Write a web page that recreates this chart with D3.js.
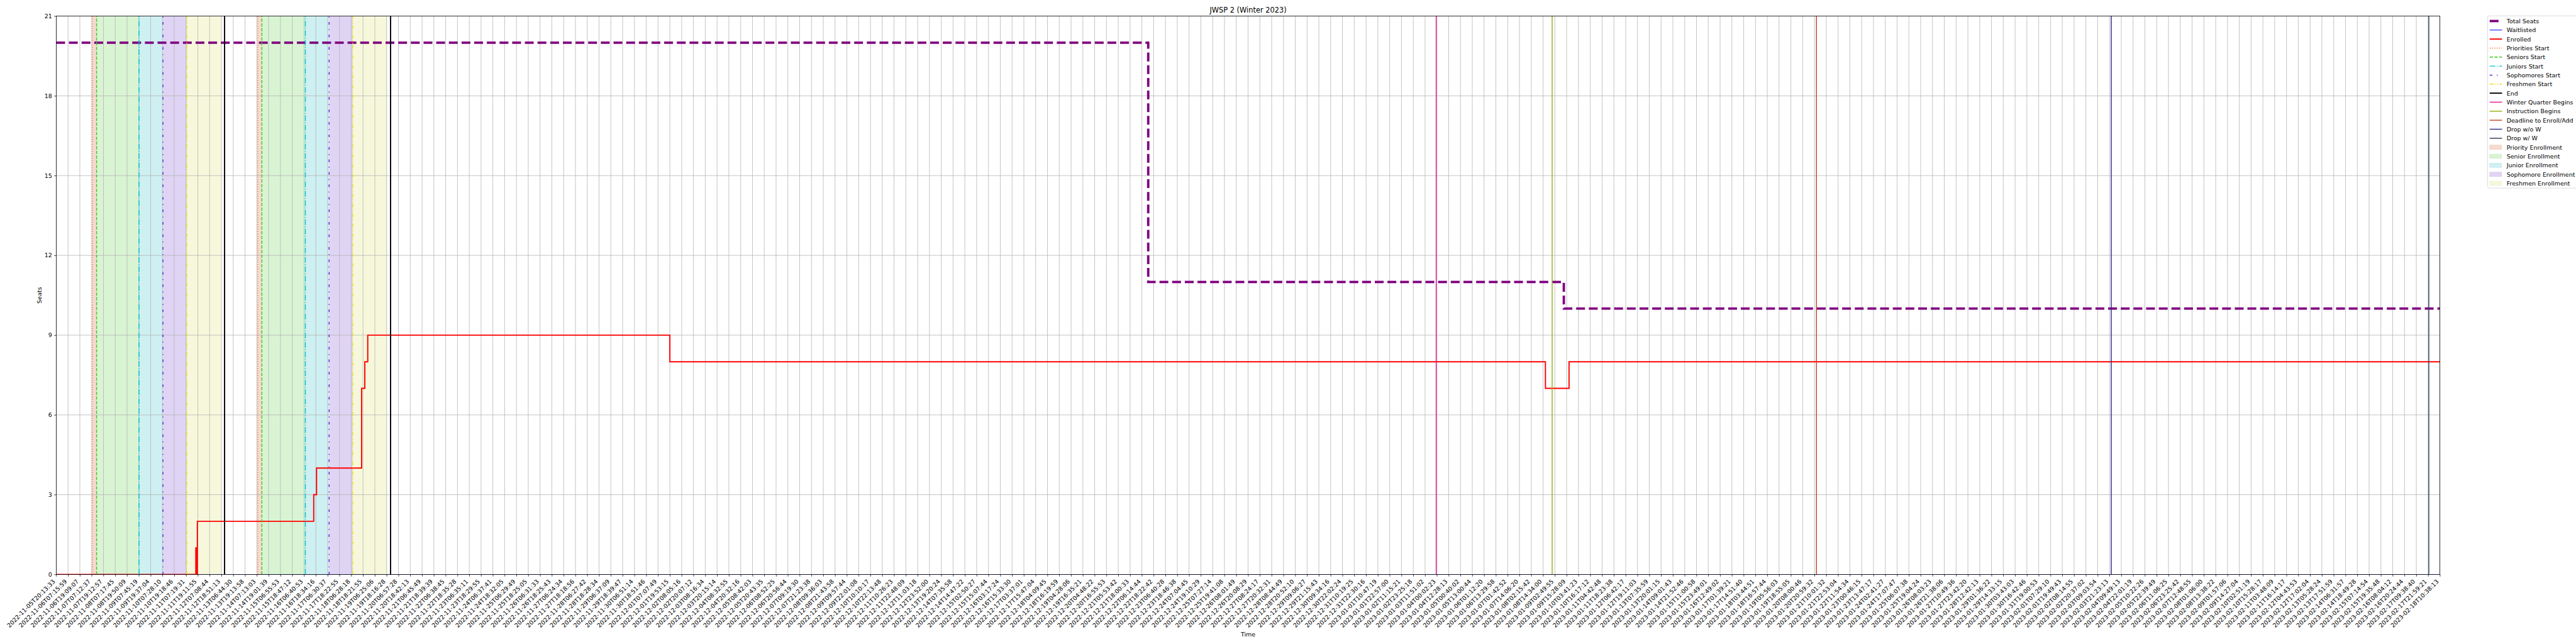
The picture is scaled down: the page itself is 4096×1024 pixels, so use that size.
<!DOCTYPE html>
<html><head><meta charset="utf-8">
<script src="https://cdn.jsdelivr.net/npm/d3@7"></script>
<style>html,body{margin:0;padding:0;background:#fff;overflow:hidden}svg{display:block}</style>
</head><body><div id="chart"></div>
<script>
// ---------------- DATA ----------------
const chartTitle = "JWSP 2 (Winter 2023)";
const xAxisLabel = "Time";
const yAxisLabel = "Seats";
const tickLabels = [
"2022-11-05T20:13:33","2022-11-06T07:15:59","2022-11-06T19:09:07","2022-11-07T07:12:37","2022-11-07T19:12:57",
"2022-11-08T07:17:45","2022-11-08T19:50:09","2022-11-09T07:45:19","2022-11-09T19:37:04","2022-11-10T07:28:10",
"2022-11-10T19:18:46","2022-11-11T07:19:31","2022-11-11T19:11:55","2022-11-12T07:08:44","2022-11-12T18:51:13",
"2022-11-13T06:44:30","2022-11-13T19:13:58","2022-11-14T07:13:03","2022-11-14T19:01:39","2022-11-15T06:55:53",
"2022-11-15T18:47:12","2022-11-16T06:40:53","2022-11-16T18:34:16","2022-11-17T06:30:37","2022-11-17T18:22:55",
"2022-11-18T06:28:18","2022-11-18T18:21:55","2022-11-19T06:25:06","2022-11-19T18:16:28","2022-11-20T06:57:28",
"2022-11-20T18:42:13","2022-11-21T06:45:49","2022-11-21T18:39:39","2022-11-22T06:38:45","2022-11-22T18:35:28",
"2022-11-23T06:35:11","2022-11-23T18:29:55","2022-11-24T06:37:41","2022-11-24T18:32:05","2022-11-25T06:29:49",
"2022-11-25T18:25:05","2022-11-26T06:31:33","2022-11-26T18:25:43","2022-11-27T06:24:34","2022-11-27T18:18:56",
"2022-11-28T06:27:42","2022-11-28T18:28:34","2022-11-29T06:37:09","2022-11-29T18:39:47","2022-11-30T06:51:14",
"2022-11-30T18:51:46","2022-12-01T07:07:49","2022-12-01T19:53:15","2022-12-02T08:05:16","2022-12-02T20:07:12",
"2022-12-03T08:16:34","2022-12-03T20:15:14","2022-12-04T08:32:55","2022-12-04T20:32:16","2022-12-05T08:42:03",
"2022-12-05T20:43:35","2022-12-06T08:52:25","2022-12-06T20:56:44","2022-12-07T09:19:30","2022-12-07T21:23:38",
"2022-12-08T09:36:03","2022-12-08T21:43:58","2022-12-09T09:57:44","2022-12-09T22:01:08","2022-12-10T10:10:17",
"2022-12-10T22:13:48","2022-12-11T10:26:23","2022-12-11T22:48:09","2022-12-12T11:03:18","2022-12-12T23:52:00",
"2022-12-13T19:20:24","2022-12-14T07:35:58","2022-12-14T14:47:22","2022-12-15T02:50:27","2022-12-15T15:07:44",
"2022-12-16T03:17:24","2022-12-16T15:33:30","2022-12-17T03:37:01","2022-12-17T15:47:04","2022-12-18T04:09:45",
"2022-12-18T16:19:59","2022-12-19T04:28:06","2022-12-19T16:35:21","2022-12-20T04:48:22","2022-12-20T16:55:53",
"2022-12-21T05:53:42","2022-12-21T18:00:33","2022-12-22T06:14:44","2022-12-22T18:22:42","2022-12-23T06:40:28",
"2022-12-23T18:46:38","2022-12-24T07:04:45","2022-12-24T19:10:29","2022-12-25T07:27:14","2022-12-25T19:41:08",
"2022-12-26T08:01:49","2022-12-26T20:08:29","2022-12-27T08:24:17","2022-12-27T20:32:31","2022-12-28T08:44:49",
"2022-12-28T20:52:10","2022-12-29T09:06:27","2022-12-29T21:15:43","2022-12-30T09:34:16","2022-12-30T22:02:24",
"2022-12-31T10:19:25","2022-12-31T22:30:16","2023-01-01T10:47:19","2023-01-01T22:57:00","2023-01-02T11:15:21",
"2023-01-02T23:25:18","2023-01-03T11:51:02","2023-01-04T00:02:23","2023-01-04T12:28:13","2023-01-05T00:40:02",
"2023-01-05T13:00:44","2023-01-06T01:12:20","2023-01-06T13:29:58","2023-01-07T01:42:52","2023-01-07T14:06:20",
"2023-01-08T02:15:42","2023-01-08T14:34:00","2023-01-09T02:49:55","2023-01-09T15:28:09","2023-01-10T03:41:23",
"2023-01-10T16:17:12","2023-01-11T04:42:48","2023-01-11T18:23:38","2023-01-12T06:42:17","2023-01-12T19:11:03",
"2023-01-13T07:35:59","2023-01-13T20:01:15","2023-01-14T09:01:43","2023-01-14T21:52:46","2023-01-15T11:00:58",
"2023-01-15T23:49:01","2023-01-16T12:49:02","2023-01-17T01:39:21","2023-01-17T14:51:40","2023-01-18T03:44:51",
"2023-01-18T16:57:44","2023-01-19T05:56:03","2023-01-19T18:55:05","2023-01-20T08:00:46","2023-01-20T20:59:32",
"2023-01-21T10:01:32","2023-01-21T22:53:04","2023-01-22T11:54:34","2023-01-23T00:46:15","2023-01-23T13:47:17",
"2023-01-24T02:41:27","2023-01-24T17:07:47","2023-01-25T06:07:38","2023-01-25T19:04:24","2023-01-26T08:03:23",
"2023-01-26T21:38:06","2023-01-27T10:49:36","2023-01-27T23:42:20","2023-01-28T12:42:13","2023-01-29T01:36:22",
"2023-01-29T14:33:15","2023-01-30T03:43:03","2023-01-30T16:42:46","2023-01-31T19:00:53","2023-02-01T07:29:10",
"2023-02-01T19:49:43","2023-02-02T08:14:55","2023-02-02T20:37:02","2023-02-03T09:03:54","2023-02-03T21:23:13",
"2023-02-04T09:49:13","2023-02-04T22:01:19","2023-02-05T10:22:26","2023-02-05T22:39:49","2023-02-06T11:06:25",
"2023-02-06T23:25:42","2023-02-07T12:48:55","2023-02-08T01:06:00","2023-02-08T13:38:22","2023-02-09T01:57:06",
"2023-02-09T14:27:04","2023-02-10T02:51:19","2023-02-10T15:28:17","2023-02-11T03:48:09","2023-02-11T16:14:17",
"2023-02-12T04:43:53","2023-02-12T17:02:04","2023-02-13T05:28:24","2023-02-13T17:51:59","2023-02-14T06:31:57",
"2023-02-14T18:49:28","2023-02-15T07:14:54","2023-02-15T19:35:48","2023-02-16T08:04:12","2023-02-16T20:24:44",
"2023-02-17T09:38:40","2023-02-17T21:59:21","2023-02-18T10:38:13"
];
const yTickValues = [0, 3, 6, 9, 12, 15, 18, 21];
const yDomain = [0, 21];

const seatsTimes  = ["2022-11-05T20:13:33","2022-12-22T12:47:00","2023-01-09T12:25:00","2023-02-18T10:38:13"];
const seatsValues = [20, 11, 10, 10];

const waitlistTimes  = ["2022-11-05T20:13:33","2023-02-18T10:38:13"];
const waitlistValues = [0, 0];

const enrolledTimes = ["2022-11-05T20:13:33","2022-11-11T17:10:00","2022-11-11T17:46:00","2022-11-11T18:43:00",
  "2022-11-16T16:25:00","2022-11-16T19:17:00","2022-11-18T16:56:00","2022-11-18T20:10:00","2022-11-18T23:10:00",
  "2022-12-01T19:53:15","2023-01-08T17:01:00","2023-01-09T17:55:00","2023-02-18T10:38:13"];
const enrolledValues = [0, 1, 0, 2, 3, 4, 7, 8, 9, 8, 7, 8, 8];

const eventNames = ["Priorities Start","Seniors Start","Juniors Start","Sophomores Start","Freshmen Start","End",
  "Winter Quarter Begins","Instruction Begins","Deadline to Enroll/Add","Drop w/o W","Drop w/ W"];
const eventTimes = [
  ["2022-11-07T08:00:00","2022-11-14T08:00:00"],
  ["2022-11-07T12:15:00","2022-11-14T12:15:00"],
  ["2022-11-09T08:00:00","2022-11-16T08:00:00"],
  ["2022-11-10T08:00:00","2022-11-17T08:00:00"],
  ["2022-11-11T08:00:00","2022-11-18T08:00:00"],
  ["2022-11-12T22:00:00","2022-11-19T22:30:00"],
  ["2023-01-03T23:20:00"],
  ["2023-01-09T00:00:00"],
  ["2023-01-20T23:10:00"],
  ["2023-02-03T23:15:00"],
  ["2023-02-17T22:45:00"]
];

const spanNames = ["Priority Enrollment","Senior Enrollment","Junior Enrollment","Sophomore Enrollment","Freshmen Enrollment"];
const spanStarts = [
  ["2022-11-07T08:00:00","2022-11-14T08:00:00"],
  ["2022-11-07T12:15:00","2022-11-14T12:15:00"],
  ["2022-11-09T08:00:00","2022-11-16T08:00:00"],
  ["2022-11-10T08:00:00","2022-11-17T08:00:00"],
  ["2022-11-11T08:00:00","2022-11-18T08:00:00"]
];
const spanEnds = [
  ["2022-11-07T12:15:00","2022-11-14T12:15:00"],
  ["2022-11-09T08:00:00","2022-11-16T08:00:00"],
  ["2022-11-10T08:00:00","2022-11-17T08:00:00"],
  ["2022-11-11T08:00:00","2022-11-18T08:00:00"],
  ["2022-11-12T18:51:13","2022-11-19T18:40:00"]
];

// ---------------- STYLES ----------------
const eventColors = ["#f26d3d","#3dcc1f","#00c5d2","#6a20d8","#e2e21c","#000000","#e0189a","#8db40c","#cc4424","#2e2a84","#2f3d58"];
const eventDash = ["2.1 3.4","7.7 3.3","13.3 3.3 2.1 3.3","6.2 10.4 2.1 10.4","9 3.3 2.1 3.3 2.1 3.3",null,null,null,null,null,null];
const eventWidth = [2.1,2.1,2.1,2.1,2.1,2.8,2.1,2.1,2.1,2.1,2.1];
const spanColors = ["#f5dacf","#d9f4d3","#cef0f2","#e0d4f5","#f7f8db"];

// ---------------- LAYOUT ----------------
const W = 6000, H = 1500;
const plotL = 131, plotR = 5683, plotT = 37.5, plotB = 1338;
const FS = 13.9;
const font = "DejaVu Sans, Liberation Sans, sans-serif";

const parse = d3.timeParse("%Y-%m-%dT%H:%M:%S");
const tickDates = tickLabels.map(parse);
const step = (plotR - plotL) / (tickDates.length - 1);
// categorical time axis: each tick label is equally spaced
const x = d3.scaleTime().domain(tickDates).range(tickDates.map((d, i) => plotL + i * step));
const y = d3.scaleLinear().domain(yDomain).range([plotB, plotT]);

const svg = d3.select("#chart").append("svg")
  .attr("width", 4096).attr("height", 1024)
  .attr("viewBox", `0 0 ${W} ${H}`)
  .style("font-family", font);
svg.append("rect").attr("width", W).attr("height", H).attr("fill", "#fff");

const clipId = "plotclip";
svg.append("defs").append("clipPath").attr("id", clipId).append("rect")
  .attr("x", plotL).attr("y", plotT).attr("width", plotR - plotL).attr("height", plotB - plotT);

// spans
const gSpan = svg.append("g").attr("clip-path", `url(#${clipId})`);
spanNames.forEach((name, k) => {
  spanStarts[k].forEach((s, j) => {
    const x0 = x(parse(s)), x1 = x(parse(spanEnds[k][j]));
    gSpan.append("rect").attr("x", x0).attr("y", plotT).attr("width", x1 - x0).attr("height", plotB - plotT)
      .attr("fill", spanColors[k]);
  });
});

// grid
const gGrid = svg.append("g");
gGrid.selectAll("line.v").data(tickDates).join("line")
  .attr("x1", d => x(d)).attr("x2", d => x(d)).attr("y1", plotT).attr("y2", plotB)
  .attr("stroke", "#b0b0b0").attr("stroke-width", 1.1);
gGrid.selectAll("line.h").data(yTickValues).join("line")
  .attr("x1", plotL).attr("x2", plotR).attr("y1", d => y(d)).attr("y2", d => y(d))
  .attr("stroke", "#b0b0b0").attr("stroke-width", 1.1);

const gLines = svg.append("g").attr("clip-path", `url(#${clipId})`);
const stepLine = d3.line().curve(d3.curveStepAfter).x(d => x(d[0])).y(d => y(d[1]));

// total seats
gLines.append("path").datum(seatsTimes.map((t, i) => [parse(t), seatsValues[i]]))
  .attr("d", stepLine).attr("fill", "none").attr("stroke", "#800080")
  .attr("stroke-width", 5.56).attr("stroke-dasharray", "20.6 8.9");
// waitlisted
gLines.append("path").datum(waitlistTimes.map((t, i) => [parse(t), waitlistValues[i]]))
  .attr("d", stepLine).attr("fill", "none").attr("stroke", "#0000ff").attr("stroke-width", 1.5);
// enrolled
gLines.append("path").datum(enrolledTimes.map((t, i) => [parse(t), enrolledValues[i]]))
  .attr("d", stepLine).attr("fill", "none").attr("stroke", "#ff0000").attr("stroke-width", 2.8)
  .attr("stroke-linejoin", "miter");

// event lines
eventNames.forEach((name, k) => {
  eventTimes[k].forEach(t => {
    const xx = x(parse(t));
    const l = gLines.append("line").attr("x1", xx).attr("x2", xx).attr("y1", plotB).attr("y2", plotT)
      .attr("stroke", eventColors[k]).attr("stroke-width", eventWidth[k]);
    if (eventDash[k]) l.attr("stroke-dasharray", eventDash[k]);
  });
});

// spines
svg.append("rect").attr("x", plotL).attr("y", plotT).attr("width", plotR - plotL).attr("height", plotB - plotT)
  .attr("fill", "none").attr("stroke", "#000").attr("stroke-width", 1.1);

// axes
const labelMap = new Map(tickDates.map((d, i) => [+d, tickLabels[i]]));
const xAxis = d3.axisBottom(x).tickValues(tickDates).tickFormat(d => labelMap.get(+d)).tickSize(4.86).tickSizeOuter(0);
const gx = svg.append("g").attr("transform", `translate(0,${plotB})`).call(xAxis);
gx.select(".domain").remove();
gx.selectAll(".tick line").attr("stroke", "#000").attr("stroke-width", 1.1);
gx.selectAll(".tick text")
  .attr("x", null).attr("y", null).attr("dy", null)
  .attr("transform", "translate(-2.3,17.5) rotate(-45)")
  .attr("text-anchor", "end")
  .attr("font-size", FS).attr("font-family", font).attr("fill", "#000");

const yAxis = d3.axisLeft(y).tickValues(yTickValues).tickSize(4.86).tickPadding(4.86).tickSizeOuter(0);
const gy = svg.append("g").attr("transform", `translate(${plotL},0)`).call(yAxis);
gy.select(".domain").remove();
gy.selectAll(".tick line").attr("stroke", "#000").attr("stroke-width", 1.1);
gy.selectAll(".tick text").attr("font-size", FS).attr("font-family", font).attr("fill", "#000");

// labels
svg.append("text").attr("x", (plotL + plotR) / 2).attr("y", 30).attr("text-anchor", "middle")
  .attr("font-size", 16.7).attr("fill", "#000").text(chartTitle);
svg.append("text").attr("x", (plotL + plotR) / 2).attr("y", 1482).attr("text-anchor", "middle")
  .attr("font-size", FS).attr("fill", "#000").text(xAxisLabel);
svg.append("text").attr("transform", `translate(96,${(plotT + plotB) / 2}) rotate(-90)`).attr("text-anchor", "middle")
  .attr("font-size", FS).attr("fill", "#000").text(yAxisLabel);

// legend
const legX = 5794, legY = 37, legW = 210, legH = 401;
const gLeg = svg.append("g");
gLeg.append("rect").attr("x", legX).attr("y", legY).attr("width", legW).attr("height", legH).attr("rx", 4)
  .attr("fill", "#fff").attr("fill-opacity", 0.8).attr("stroke", "#d0d0d0").attr("stroke-width", 1.1);
const legendItems = [
  {name: "Total Seats", type: "line", color: "#800080", width: 5.56, dash: "20.6 8.9"},
  {name: "Waitlisted", type: "line", color: "#0000ff", width: 1.5, dash: null},
  {name: "Enrolled", type: "line", color: "#ff0000", width: 2.8, dash: null},
  ...eventNames.map((n, k) => ({name: n, type: "line", color: eventColors[k], width: eventWidth[k], dash: eventDash[k]})),
  ...spanNames.map((n, k) => ({name: n, type: "patch", color: spanColors[k]}))
];
legendItems.forEach((it, i) => {
  const cy = 49 + i * 21;
  if (it.type === "line") {
    const l = gLeg.append("line").attr("x1", 5799).attr("x2", 5827.8).attr("y1", cy).attr("y2", cy)
      .attr("stroke", it.color).attr("stroke-width", it.width);
    if (it.dash) l.attr("stroke-dasharray", it.dash);
  } else {
    gLeg.append("rect").attr("x", 5799).attr("y", cy - 4.9).attr("width", 27.8).attr("height", 9.8)
      .attr("fill", it.color).attr("stroke", d3.color(it.color).darker(0.15)).attr("stroke-width", 1);
  }
  gLeg.append("text").attr("x", 5838.5).attr("y", cy).attr("dy", "0.36em")
    .attr("font-size", FS).attr("fill", "#000").text(it.name);
});
</script>
</body></html>
